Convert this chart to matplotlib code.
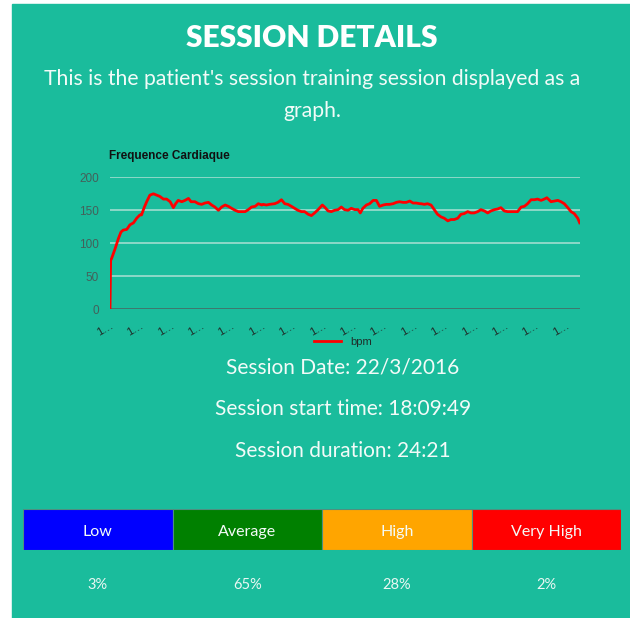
import numpy as np
import matplotlib
matplotlib.use("Agg")
import matplotlib.pyplot as plt
from matplotlib.patches import Rectangle

# heart rate trace (elapsed seconds, bpm)
elapsed_s = [0, 2, 5, 16, 26, 34, 41, 52, 62, 73, 83, 93, 98, 107, 114, 124,
             135, 145, 155, 166, 176, 187, 197, 204, 212, 223, 233, 244, 252,
             264, 275, 285, 295, 306, 316, 326, 337, 347, 358, 368, 378, 389,
             399, 409, 420, 430, 440, 451, 461, 472, 476, 486, 496, 512, 522,
             533, 543, 553, 564, 574, 584, 595, 605, 616, 626, 636, 647, 660,
             667, 678, 688, 698, 709, 719, 729, 740, 750, 761, 771, 778, 786,
             797, 807, 818, 828, 838, 849, 859, 869, 880, 890, 900, 911, 921,
             932, 942, 952, 963, 967, 977, 987, 998, 1008, 1018, 1029, 1039,
             1050, 1060, 1070, 1081, 1091, 1101, 1112, 1122, 1132, 1143, 1153,
             1164, 1174, 1184, 1195, 1205, 1215, 1226, 1236, 1246, 1257, 1267,
             1278, 1288, 1298, 1309, 1319, 1329, 1340, 1350, 1358, 1371, 1381,
             1392, 1402, 1412, 1423, 1433, 1443, 1454, 1460]
bpm = [0, 74, 77, 92, 107, 117, 120, 121, 128, 131, 138, 143, 143, 155, 163,
       173, 175, 173, 171, 167, 167, 163, 154, 160, 165, 163, 165, 168, 163,
       163, 160, 159, 161, 162, 158, 155, 150, 155, 158, 156, 153, 150, 148,
       148, 148, 151, 155, 156, 160, 158, 159, 158, 159, 160, 162, 166, 160,
       159, 156, 153, 150, 148, 148, 144, 142, 146, 151, 158, 155, 149, 148,
       150, 151, 155, 151, 150, 153, 151, 151, 146, 153, 158, 160, 165, 165,
       156, 158, 159, 159, 160, 162, 163, 162, 162, 164, 161, 161, 160, 160,
       159, 160, 158, 151, 144, 140, 138, 134, 136, 136, 138, 144, 145, 148,
       146, 146, 148, 151, 149, 146, 149, 151, 152, 154, 149, 148, 148, 148,
       148, 155, 156, 160, 166, 166, 167, 165, 167, 169, 163, 164, 165, 163,
       160, 154, 148, 145, 138, 131]
tick_labels = ["1…"] * 16
y_ticks = [0, 50, 100, 150, 200]

zones = ["Low", "Average", "High", "Very High"]
zone_pct = [3, 65, 28, 2]
zone_colors = ["#0000ff", "#008000", "#ffa500", "#ff0000"]

session_lines = ["Session Date: 22/3/2016",
                 "Session start time: 18:09:49",
                 "Session duration: 24:21"]

BG = "#1abc9c"
W, H = 630, 618


def fy(y):
    # pixel row -> figure fraction
    return 1 - y / H


fig = plt.figure(figsize=(W / 100, H / 100), dpi=100)
fig.patch.set_facecolor("white")
fig.patches.append(Rectangle((12 / W, 0), 1 - 12 / W, fy(4),
                             transform=fig.transFigure, color=BG, zorder=-10))

fig.text(312 / W, fy(38), "SESSION DETAILS", ha="center", va="center",
         color="white", fontsize=21.5, fontweight="heavy", family="Lato")
fig.text(312 / W, fy(79), "This is the patient's session training session displayed as a",
         ha="center", va="center", color="#f2fbf8", fontsize=15.2, family="Lato")
fig.text(312 / W, fy(111), "graph.", ha="center", va="center",
         color="#f2fbf8", fontsize=15.2, family="Lato")

# heart rate chart
ax = fig.add_axes([110 / W, fy(309.3), 470 / W, (309.3 - 177.3) / H])
ax.set_facecolor("none")
ax.plot(elapsed_s, bpm, color="red", lw=2, label="bpm", zorder=3)
ax.set_xlim(0, 1461)
ax.set_ylim(0, 200)
for v in y_ticks[1:]:
    ax.axhline(v, color="#cfe9e2", lw=1.1, alpha=0.8, zorder=1)
ax.axhline(0, color="#4a6560", lw=1.1, zorder=2)
for s in ax.spines.values():
    s.set_visible(False)
ax.set_yticks(y_ticks)
ax.tick_params(axis="y", length=0, pad=8, labelsize=8.5, labelcolor="#44605a")
ax.set_xticks(np.arange(len(tick_labels)) * 94.5)
ax.set_xticklabels(tick_labels, rotation=30, ha="right", rotation_mode="anchor")
ax.tick_params(axis="x", length=0, pad=8, labelsize=8, labelcolor="#1f2f2b")
for lab in ax.get_yticklabels() + ax.get_xticklabels():
    lab.set_family(["Liberation Sans", "DejaVu Sans"])
fig.text(109 / W, fy(156), "Frequence Cardiaque", ha="left", va="center",
         fontsize=8.5, fontweight="bold", color="#111111", family="Liberation Sans")
fig.legend(loc="center", bbox_to_anchor=(343 / W, fy(342)), frameon=False,
           prop={"family": "Liberation Sans", "size": 8}, handlelength=2.4,
           labelcolor="#1f2f2b", handletextpad=0.8)

for i, line in enumerate(session_lines):
    fig.text(343 / W, fy(367 + 42 * i), line, ha="center", va="center",
             color="#f2fbf8", fontsize=15, family="Lato")

# zone bar
bx = fig.add_axes([23 / W, fy(550), 598 / W, 41 / H])
bx.bar(range(len(zones)), [1] * len(zones), width=1, color=zone_colors,
       edgecolor="#4e8f80", lw=0.8)
bx.set_xlim(-0.5, len(zones) - 0.5)
bx.set_ylim(0, 1)
bx.axis("off")
for i, (z, p) in enumerate(zip(zones, zone_pct)):
    bx.text(i, 0.45, z, ha="center", va="center", color="#f4fbf8",
            fontsize=11.5, family="Lato")
    fig.text((23 + 598 * (i + 0.5) / len(zones)) / W, fy(585), f"{p}%",
             ha="center", va="center", color="#eaf7f3", fontsize=10.5, family="Lato")

fig.savefig("out.png", dpi=100, facecolor=fig.get_facecolor())
